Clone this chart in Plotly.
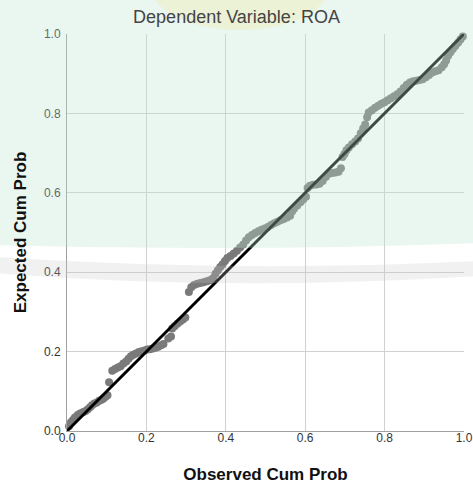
import plotly.graph_objects as go

# ---- data: observed vs expected cumulative probabilities (P-P plot of residuals) ----
observed = [
    0.005, 0.010, 0.015, 0.020, 0.027, 0.033, 0.040, 0.046, 0.052, 0.058,
    0.063, 0.069, 0.075, 0.081, 0.087, 0.092, 0.097, 0.102, 0.106,
    0.114, 0.121, 0.128, 0.135, 0.142, 0.149, 0.155, 0.161, 0.167, 0.174,
    0.181, 0.188, 0.195, 0.202, 0.209, 0.216, 0.223, 0.230, 0.237, 0.243,
    0.255, 0.262, 0.265, 0.271, 0.278, 0.285, 0.292, 0.298,
    0.307, 0.313, 0.320, 0.328, 0.336, 0.344, 0.352, 0.360, 0.368, 0.374,
    0.380, 0.386, 0.392, 0.398, 0.404, 0.412, 0.420, 0.428, 0.436, 0.444,
    0.451, 0.458, 0.466, 0.474, 0.482, 0.490, 0.498, 0.506, 0.514, 0.522,
    0.530, 0.538, 0.546, 0.554, 0.562, 0.567, 0.572, 0.580, 0.588, 0.595,
    0.602, 0.606, 0.612, 0.620, 0.628, 0.636, 0.644, 0.652, 0.660, 0.668,
    0.676, 0.684, 0.690, 0.694, 0.699, 0.704, 0.710, 0.718, 0.726, 0.733,
    0.740, 0.746, 0.751, 0.756, 0.760, 0.768, 0.776, 0.784, 0.792, 0.800,
    0.808, 0.816, 0.824, 0.832, 0.840, 0.848, 0.856, 0.864, 0.872, 0.880,
    0.888, 0.896, 0.904, 0.912, 0.920, 0.928, 0.936, 0.944, 0.950, 0.955,
    0.960, 0.966, 0.972, 0.978, 0.985, 0.991, 0.997,
]
expected = [
    0.012, 0.022, 0.028, 0.034, 0.040, 0.044, 0.047, 0.050, 0.054, 0.060,
    0.065, 0.069, 0.072, 0.076, 0.079, 0.082, 0.086, 0.090, 0.123,
    0.152, 0.156, 0.160, 0.163, 0.170, 0.175, 0.182, 0.188, 0.192, 0.195,
    0.199, 0.201, 0.203, 0.205, 0.206, 0.208, 0.210, 0.212, 0.216, 0.219,
    0.233, 0.238, 0.258, 0.264, 0.270, 0.276, 0.281, 0.286,
    0.350, 0.362, 0.368, 0.371, 0.373, 0.375, 0.377, 0.380, 0.385, 0.396,
    0.405, 0.413, 0.420, 0.428, 0.436, 0.441, 0.447, 0.454, 0.462, 0.470,
    0.480, 0.488, 0.494, 0.499, 0.503, 0.507, 0.510, 0.514, 0.519, 0.523,
    0.527, 0.531, 0.534, 0.538, 0.542, 0.553, 0.560, 0.568, 0.576, 0.583,
    0.590, 0.612, 0.618, 0.620, 0.621, 0.623, 0.630, 0.640, 0.648, 0.650,
    0.651, 0.653, 0.662, 0.690, 0.698, 0.707, 0.714, 0.722, 0.729, 0.737,
    0.750, 0.762, 0.772, 0.790, 0.802, 0.808, 0.814, 0.819, 0.824, 0.828,
    0.833, 0.838, 0.843, 0.848, 0.855, 0.864, 0.872, 0.878, 0.881, 0.882,
    0.884, 0.886, 0.891, 0.897, 0.903, 0.906, 0.909, 0.916, 0.924, 0.933,
    0.945, 0.954, 0.962, 0.970, 0.978, 0.986, 0.994,
]
ref_line = [0.0, 1.0]
tick_vals = [0.0, 0.2, 0.4, 0.6, 0.8, 1.0]
tick_text = ["0.0", "0.2", "0.4", "0.6", "0.8", "1.0"]

W, H = 473, 487
L, R, T, B = 67, 9, 34, 56
PW, PH = W - L - R, H - T - B


def px(x):
    return (x - L) / PW


def py(y):
    return (H - B - y) / PH


fig = go.Figure()
fig.add_trace(go.Scatter(
    x=observed, y=expected, mode="markers",
    marker=dict(size=8, color="#7a7a7a", line=dict(width=0)),
    hoverinfo="x+y", showlegend=False, cliponaxis=False,
))
fig.add_trace(go.Scatter(
    x=ref_line, y=ref_line, mode="lines",
    line=dict(color="#000000", width=3), showlegend=False, hoverinfo="skip",
    cliponaxis=False,
))

# watermark-like overlay (mint disc region, bands, yellow logo)
mint = (f"M {px(-5)},{py(-5)} L {px(478)},{py(-5)} L {px(478)},{py(243)} "
        f"Q {px(236)},{py(252)} {px(-5)},{py(245)} Z")
gray_band = (f"M {px(-5)},{py(257)} Q {px(236)},{py(273)} {px(478)},{py(261)} "
             f"L {px(478)},{py(276)} Q {px(236)},{py(292)} {px(-5)},{py(273)} Z")
shapes = [
    dict(type="path", path=mint, xref="paper", yref="paper",
         fillcolor="#bfe3cf", opacity=0.32, line=dict(width=0), layer="above"),
    dict(type="path", path=gray_band, xref="paper", yref="paper",
         fillcolor="#c8c8c8", opacity=0.25, line=dict(width=0), layer="above"),
    dict(type="circle", xref="paper", yref="paper",
         x0=px(150), x1=px(330), y0=py(30), y1=py(-60),
         fillcolor="#f5e27a", opacity=0.22, line=dict(width=0), layer="above"),
]

axis_common = dict(
    range=[0, 1], tickvals=tick_vals, ticktext=tick_text,
    showgrid=True, gridcolor="#d0d0d0", gridwidth=1,
    zeroline=False, showline=True, linecolor="#a0a0a0", linewidth=1,
    ticks="", tickfont=dict(family="Liberation Sans, Arial", size=12, color="#333333"),
    fixedrange=True, automargin=False,
)

fig.update_layout(
    width=W, height=H,
    margin=dict(l=L, r=R, t=T, b=B, autoexpand=False),
    paper_bgcolor="#ffffff", plot_bgcolor="#ffffff",
    title=dict(text="Dependent Variable: ROA", x=0.5, xref="container",
               y=1 - 17 / H, yref="container", yanchor="middle", xanchor="center",
               font=dict(family="Liberation Sans, Arial", size=18, color="#444444")),
    xaxis=dict(axis_common, ticklabelstandoff=-4,
               title=dict(text="<b>Observed Cum Prob</b>", standoff=23,
                          font=dict(family="Liberation Sans, Arial", size=17, color="#111111"))),
    yaxis=dict(axis_common, ticklabelstandoff=3,
               title=dict(text="<b>Expected Cum Prob</b>", standoff=12,
                          font=dict(family="Liberation Sans, Arial", size=17, color="#111111"))),
    shapes=shapes,
    showlegend=False,
)

fig.write_html("out.html", config={"displayModeBar": False},
               post_script="document.body.style.margin='0';document.body.style.overflow='hidden';")
